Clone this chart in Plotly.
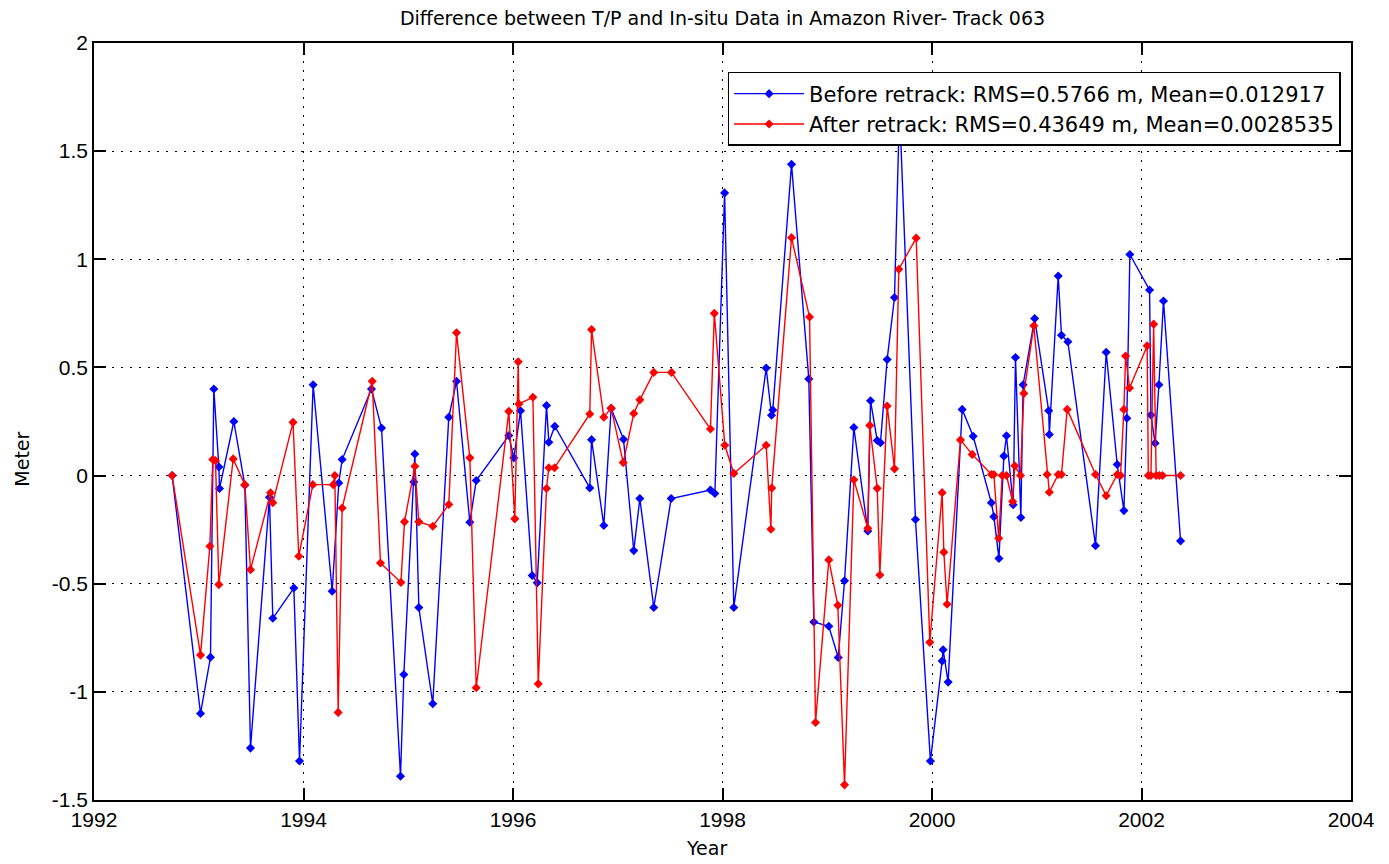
import plotly.graph_objects as go

# ---- data ----
before_t = [1992.746, 1993.017, 1993.112, 1993.144, 1993.192, 1993.198, 1993.335, 1993.44, 1993.494,
            1993.675, 1993.707, 1993.908, 1993.962, 1994.092, 1994.274, 1994.337, 1994.369, 1994.649,
            1994.745, 1994.926, 1994.958, 1995.053, 1995.063, 1995.101, 1995.234, 1995.387, 1995.461,
            1995.588, 1995.649, 1995.96, 1996.008, 1996.072, 1996.183, 1996.231, 1996.32, 1996.342,
            1996.399, 1996.733, 1996.75, 1996.867, 1996.937, 1997.055, 1997.153, 1997.211, 1997.344,
            1997.51, 1997.885, 1997.927, 1998.02, 1998.108, 1998.417, 1998.468, 1998.48, 1998.659,
            1998.824, 1998.872, 1999.015, 1999.105, 1999.165, 1999.254, 1999.387, 1999.413, 1999.477,
            1999.508, 1999.572, 1999.642, 1999.69, 1999.842, 1999.985, 2000.097, 2000.106, 2000.154,
            2000.288, 2000.393, 2000.567, 2000.591, 2000.639, 2000.686, 2000.711, 2000.775, 2000.797,
            2000.848, 2000.87, 2000.98, 2001.114, 2001.12, 2001.205, 2001.236, 2001.297, 2001.561,
            2001.663, 2001.768, 2001.832, 2001.86, 2001.889, 2002.077, 2002.09, 2002.13, 2002.166,
            2002.21, 2002.373]
before_v = [0.00, -1.10, -0.84, 0.40, 0.04, -0.06, 0.25, -0.045, -1.26,
            -0.10, -0.66, -0.52, -1.32, 0.42, -0.535, -0.034, 0.074, 0.40,
            0.22, -1.39, -0.92, -0.03, 0.10, -0.61, -1.055, 0.27, 0.436,
            -0.216, -0.023, 0.185, 0.082, 0.30, -0.462, -0.496, 0.324, 0.154,
            0.228, -0.057, 0.166, -0.231, 0.31, 0.168, -0.347, -0.106, -0.61,
            -0.106, -0.067, -0.083, 1.307, -0.61, 0.497, 0.279, 0.303, 1.439,
            0.447, -0.677, -0.697, -0.841, -0.486, 0.222, -0.256, 0.346, 0.162,
            0.152, 0.537, 0.823, 1.70, -0.203, -1.32, -0.857, -0.805, -0.955,
            0.306, 0.182, -0.126, -0.19, -0.383, 0.09, 0.184, -0.135, 0.546,
            -0.194, 0.42, 0.726, 0.30, 0.19, 0.923, 0.649, 0.619, -0.324,
            0.57, 0.051, -0.162, 0.265, 1.022, 0.858, 0.28, 0.15, 0.42,
            0.807, -0.302]

after_t = [1992.746, 1993.017, 1993.106, 1993.134, 1993.16, 1993.192, 1993.329, 1993.44, 1993.494,
           1993.685, 1993.707, 1993.90, 1993.955, 1994.089, 1994.284, 1994.299, 1994.331, 1994.369,
           1994.656, 1994.735, 1994.93, 1994.964, 1995.063, 1995.101, 1995.234, 1995.387, 1995.461,
           1995.588, 1995.649, 1995.96, 1996.017, 1996.05, 1996.056, 1996.19, 1996.241, 1996.32,
           1996.342, 1996.396, 1996.733, 1996.75, 1996.867, 1996.937, 1997.052, 1997.153, 1997.211,
           1997.344, 1997.513, 1997.885, 1997.922, 1998.022, 1998.108, 1998.417, 1998.462, 1998.47,
           1998.659, 1998.831, 1998.888, 1999.015, 1999.101, 1999.165, 1999.254, 1999.387, 1999.406,
           1999.477, 1999.502, 1999.572, 1999.642, 1999.683, 1999.849, 1999.979, 2000.097, 2000.113,
           2000.144, 2000.272, 2000.384, 2000.568, 2000.59, 2000.637, 2000.67, 2000.711, 2000.77,
           2000.79, 2000.845, 2000.877, 2000.972, 2001.099, 2001.12, 2001.205, 2001.236, 2001.291,
           2001.561, 2001.663, 2001.768, 2001.80, 2001.832, 2001.848, 2001.886, 2002.054, 2002.065,
           2002.09, 2002.116, 2002.14, 2002.17, 2002.20, 2002.373]
after_v = [0.00, -0.83, -0.327, 0.074, 0.069, -0.504, 0.077, -0.042, -0.435,
           -0.08, -0.126, 0.246, -0.373, -0.042, -0.042, 0.0, -1.095, -0.15,
           0.436, -0.404, -0.494, -0.214, 0.043, -0.214, -0.234, -0.134, 0.66,
           0.082, -0.981, 0.297, -0.20, 0.526, 0.331, 0.362, -0.963, -0.06,
           0.036, 0.036, 0.285, 0.675, 0.27, 0.312, 0.06, 0.287, 0.35,
           0.477, 0.477, 0.215, 0.75, 0.14, 0.01, 0.14, -0.248, -0.058,
           1.10, 0.733, -1.142, -0.39, -0.60, -1.43, -0.019, -0.244, 0.232,
           -0.059, -0.46, 0.322, 0.031, 0.954, 1.098, -0.771, -0.079, -0.354,
           -0.595, 0.165, 0.098, 0.005, 0.005, -0.29, 0.0, 0.0, -0.12,
           0.045, 0.0, 0.38, 0.693, 0.005, -0.077, 0.005, 0.005, 0.306,
           0.005, -0.093, 0.005, 0.0, 0.306, 0.553, 0.405, 0.60, 0.0,
           0.0, 0.70, 0.0, 0.0, 0.0, 0.0]

series_names = ["Before retrack: RMS=0.5766 m, Mean=0.012917",
                "After retrack: RMS=0.43649 m, Mean=0.0028535"]

x_ticks = [1992, 1994, 1996, 1998, 2000, 2002, 2004]
x_ticklabels = ["1992", "1994", "1996", "1998", "2000", "2002", "2004"]
y_ticks = [-1.5, -1, -0.5, 0, 0.5, 1, 1.5, 2]
y_ticklabels = ["-1.5", "-1", "-0.5", "0", "0.5", "1", "1.5", "2"]

title_text = "Difference between T/P and In-situ Data in Amazon River- Track 063"
x_label = "Year"
y_label = "Meter"

FONT = "Liberation Sans, Arial, sans-serif"
WIDE = "DejaVu Sans, Verdana, sans-serif"

fig = go.Figure()
fig.add_trace(go.Scatter(x=before_t, y=before_v, mode="lines+markers", name=series_names[0],
                         line=dict(color="#0000FF", width=1.4),
                         marker=dict(symbol="diamond", size=7, color="#0000FF")))
fig.add_trace(go.Scatter(x=after_t, y=after_v, mode="lines+markers", name=series_names[1],
                         line=dict(color="#FF0000", width=1.4),
                         marker=dict(symbol="diamond", size=7, color="#FF0000")))

axis_common = dict(showline=True, linecolor="#000000", linewidth=1.5, mirror="allticks",
                   ticks="inside", ticklen=12, tickcolor="#000000", tickwidth=1.5,
                   showgrid=True, gridcolor="#000000", griddash="2px,7px", gridwidth=1,
                   zeroline=False, tickfont=dict(family=FONT, size=21, color="#000000"))

fig.update_xaxes(range=[1992, 2004], tickvals=x_ticks, ticktext=x_ticklabels, **axis_common)
fig.update_yaxes(range=[-1.5, 2], tickvals=y_ticks, ticktext=y_ticklabels, **axis_common)

fig.update_layout(
    width=1389, height=864,
    margin=dict(l=94, r=38, t=43, b=64),
    paper_bgcolor="#FFFFFF", plot_bgcolor="#FFFFFF",
    font=dict(family=FONT, color="#000000"),
    title=dict(text=title_text, x=(94 + 1351) / 2 / 1389, xanchor="center",
               y=1 - 18 / 864, yanchor="middle", font=dict(family=WIDE, size=19, color="#000000")),
    showlegend=True,
    legend=dict(x=0.9917, xanchor="right", y=0.9617, yanchor="top",
                bgcolor="#FFFFFF", bordercolor="#000000", borderwidth=1.5,
                font=dict(family=WIDE, size=21, color="#000000"),
                itemwidth=70, tracegroupgap=2),
    annotations=[
        dict(text=x_label, xref="paper", yref="paper", x=0.487, y=-0.063, xanchor="center",
             yanchor="middle", showarrow=False, font=dict(family=WIDE, size=19, color="#000000")),
        dict(text=y_label, xref="paper", yref="paper", x=-0.057, y=0.45, xanchor="center",
             yanchor="middle", textangle=-90, showarrow=False,
             font=dict(family=WIDE, size=19, color="#000000")),
    ],
)

fig.write_html("out.html")
